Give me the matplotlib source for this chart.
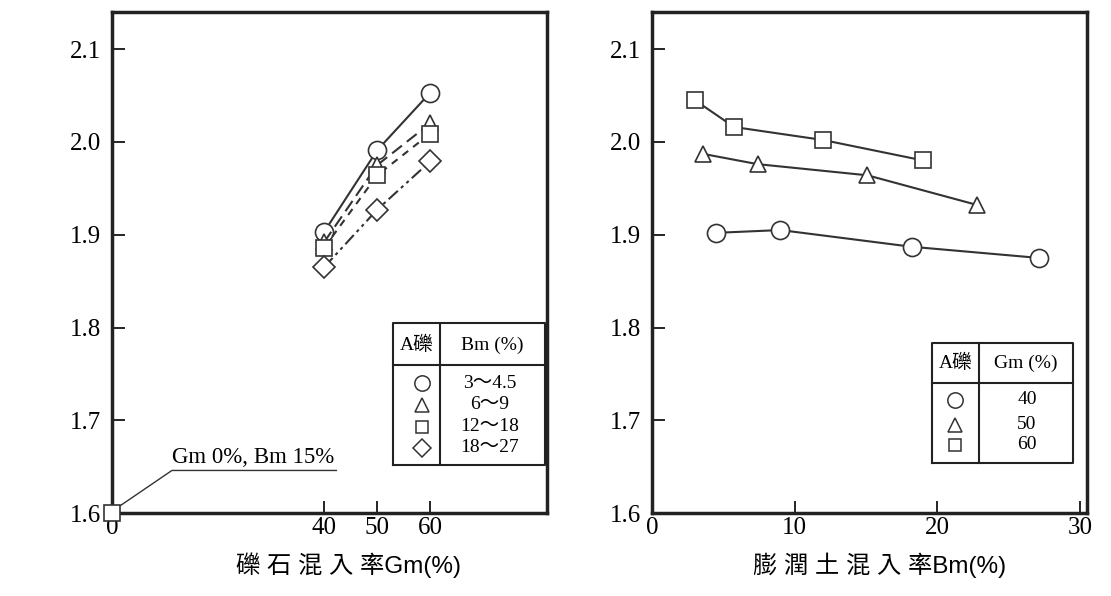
import matplotlib
matplotlib.use("Agg")
import matplotlib.pyplot as plt
from matplotlib.lines import Line2D

plt.rcParams['font.family'] = ['Liberation Serif', 'Noto Sans CJK TC']

# left panel: density vs gravel content Gm, one series per Bm range
gm = [40, 50, 60]
bm_ranges = ["3～4.5", "6～9", "12～18", "18～27"]
left_vals = [
    [1.903, 1.991, 2.053],
    [1.892, 1.975, 2.020],
    [1.886, 1.964, 2.009],
    [1.865, 1.927, 1.979],
]
origin_x, origin_y = 0, 1.6   # Gm 0%, Bm 15%

# right panel: density vs bentonite content Bm, one series per Gm
gm_levels = ["40", "50", "60"]
right_x = [
    [4.5, 9.0, 18.2, 27.1],
    [3.6, 7.4, 15.1, 22.8],
    [3.0, 5.75, 12.0, 19.0],
]
right_vals = [
    [1.902, 1.905, 1.887, 1.875],
    [1.987, 1.976, 1.964, 1.932],
    [2.045, 2.016, 2.002, 1.980],
]

markers = ['o', '^', 's', 'D']
msizes = [13, 12, 11, 11]
styles = ['-', (0, (6, 3)), (0, (3.5, 3)), (0, (6, 2, 1.5, 2, 1.5, 2))]
lc = '#333333'

fig = plt.figure(figsize=(11.11, 5.96), dpi=100)
ax1 = fig.add_axes([0.1008, 0.139, 0.3915, 0.841])
ax2 = fig.add_axes([0.5869, 0.139, 0.3915, 0.841])

for i, vals in enumerate(left_vals):
    ax1.plot(gm, vals, color=lc, lw=1.5, ls=styles[i], marker=markers[i],
             ms=msizes[i], mfc='white', mec=lc, mew=1.2, zorder=3)
ax1.plot([origin_x], [origin_y], marker='s', ms=11, mfc='white', mec=lc,
         mew=1.2, clip_on=False, zorder=5)
ax1.plot([1.7, 11.3, 42.3], [1.6086, 1.646, 1.646], color=lc, lw=1.0)
ax1.text(26.6, 1.649, "Gm 0%, Bm 15%", ha='center', va='bottom', fontsize=16.5)

for i, vals in enumerate(right_vals):
    ax2.plot(right_x[i], vals, color=lc, lw=1.5, marker=markers[i],
             ms=msizes[i], mfc='white', mec=lc, mew=1.2, zorder=3)

ax1.set_xlim(0, 82)
ax1.set_xticks([0, 40, 50, 60])
ax2.set_xlim(0, 30.5)
ax2.set_xticks([0, 10, 20, 30])
for ax in (ax1, ax2):
    ax.set_ylim(1.6, 2.14)
    ax.set_yticks([1.6, 1.7, 1.8, 1.9, 2.0, 2.1])
    ax.set_yticklabels(["1.6", "1.7", "1.8", "1.9", "2.0", "2.1"])
    ax.tick_params(direction='in', length=9, width=1.2, labelsize=18,
                   top=False, right=False, pad=3)
    ax.tick_params(axis='y', pad=8)
    for sp in ax.spines.values():
        sp.set_linewidth(2.5)
        sp.set_color('#222222')


def legend_table(ax, box, xdiv, ydiv, hy, header, rows, rows_y, sx, tx, mks, mss):
    x0, x1, y0, y1 = box
    kw = dict(transform=ax.transAxes, color='#222222', lw=1.5, clip_on=False)
    ax.add_line(Line2D([x0, x1, x1, x0, x0], [y0, y0, y1, y1, y0], **kw))
    ax.add_line(Line2D([xdiv, xdiv], [y0, y1], **kw))
    ax.add_line(Line2D([x0, x1], [ydiv, ydiv], **kw))
    ax.text((x0 + xdiv) / 2, hy, "A礫", transform=ax.transAxes,
            ha='center', va='center', fontsize=14)
    ax.text((xdiv + x1) / 2, hy, header, transform=ax.transAxes,
            ha='center', va='center', fontsize=14)
    for lab, yy, mk, ms in zip(rows, rows_y, mks, mss):
        ax.plot([sx], [yy], marker=mk, ms=ms * 0.85, mfc='white', mec=lc,
                mew=1.1, transform=ax.transAxes, clip_on=False)
        ax.text(tx, yy, lab, transform=ax.transAxes, ha='center',
                va='center', fontsize=14)


legend_table(ax1, (0.646, 0.995, 0.096, 0.379), 0.754, 0.295, 0.335,
             "Bm (%)", bm_ranges, [0.259, 0.216, 0.172, 0.130], 0.713, 0.869,
             markers, msizes)
legend_table(ax2, (0.644, 0.968, 0.100, 0.339), 0.752, 0.259, 0.299,
             "Gm (%)", gm_levels, [0.226, 0.176, 0.136], 0.697, 0.862,
             markers[:3], msizes[:3])

lab_font = ['Liberation Sans', 'Noto Sans CJK TC']
fig.text(348 / 1111, 1 - 565 / 596, "礫 石 混 入 率Gm(%)", ha='center',
         va='center', fontsize=17.5, family=lab_font)
fig.text(880 / 1111, 1 - 565 / 596, "膨 潤 土 混 入 率Bm(%)", ha='center',
         va='center', fontsize=17.5, family=lab_font)

fig.savefig("out.png", dpi=100, facecolor='white')
